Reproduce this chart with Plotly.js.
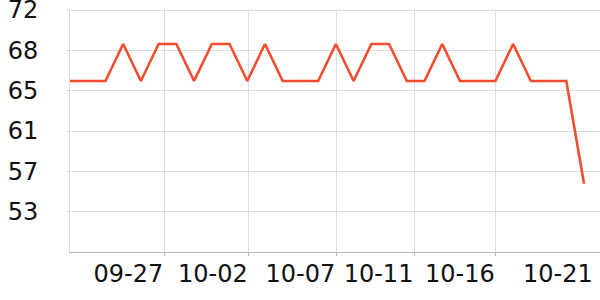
<!DOCTYPE html>
<html>
<head>
<meta charset="utf-8">
<script src="https://cdn.plot.ly/plotly-3.0.1.min.js"></script>
<style>html,body{margin:0;padding:0;background:#fff;}#chart{width:600px;height:300px;}</style>
</head>
<body>
<div id="chart"></div>
<script>
// values (one per point, evenly spaced)
const values = [65.4, 65.4, 65.4, 68.85, 65.4, 68.85, 68.85, 65.4, 68.85, 68.85,
                65.4, 68.85, 65.4, 65.4, 65.4, 68.85, 65.4, 68.85, 68.85, 65.4,
                65.4, 68.85, 65.4, 65.4, 65.4, 68.85, 65.4, 65.4, 65.4, 55.85];
// x tick labels and where they sit (in point-index units)
const tickLabels = ["09-27", "10-02", "10-07", "10-11", "10-16"];
const tickIdx = [5.32, 10.08, 15.02, 19.43, 24.02];
const lastLabel = "10-21";
const lastLabelIdx = 29.62;
// y tick values and their displayed labels
const yTickVals = [72, 68.25, 64.5, 60.75, 57, 53.25];
const yTickText = ["72", "68", "65", "61", "57", "53"];

const xs = values.map((v, i) => i);
const font = {family: "DejaVu Sans, sans-serif", size: 24, color: "#111"};

Plotly.newPlot("chart", [{
  x: xs, y: values, type: "scatter", mode: "lines",
  line: {color: "#f04e2e", width: 2.6},
  hoverinfo: "skip"
}], {
  width: 600, height: 300,
  margin: {l: 70, r: 0, t: 9, b: 48},
  paper_bgcolor: "#fff", plot_bgcolor: "#fff",
  showlegend: false,
  font: font,
  xaxis: {
    range: [0, 29.9], tickmode: "array", tickvals: tickIdx, ticktext: tickLabels,
    ticks: "outside", ticklen: 3, tickcolor: "#bbb", tickwidth: 1, tickangle: 0,
    showgrid: true, gridcolor: "#ddd", gridwidth: 1,
    showline: true, linecolor: "#bbb", linewidth: 1,
    zeroline: false, ticklabelposition: "outside left", ticklabeloverflow: "allow",
    tickfont: font, fixedrange: true
  },
  yaxis: {
    range: [49.5, 72.1], tickmode: "array", tickvals: yTickVals, ticktext: yTickText,
    ticks: "outside", ticklen: 2, tickcolor: "#ccc", tickwidth: 1,
    showgrid: true, gridcolor: "#ddd", gridwidth: 1,
    showline: true, linecolor: "#ddd", linewidth: 1,
    zeroline: false, tickfont: font, ticklabelstandoff: 24, ticklabeloverflow: "allow",
    fixedrange: true
  },
  annotations: [{
    x: lastLabelIdx, xref: "x", y: 0, yref: "paper",
    xanchor: "right", yanchor: "top", yshift: -6,
    text: lastLabel, showarrow: false, font: font
  }]
}, {displayModeBar: false, staticPlot: true});
</script>
</body>
</html>
